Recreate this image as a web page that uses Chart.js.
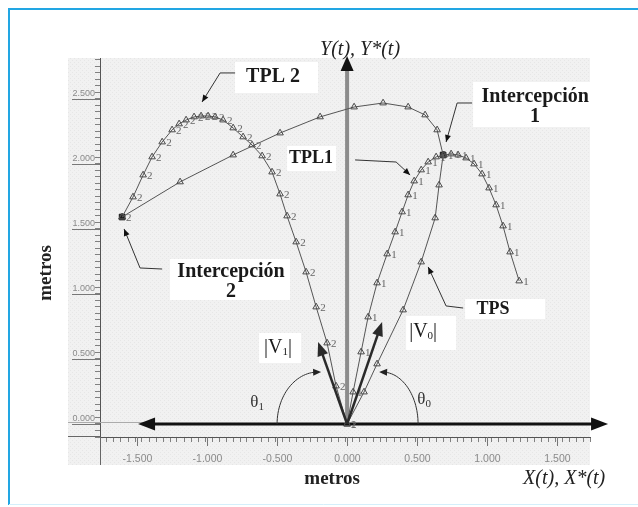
<!DOCTYPE html>
<html>
<head>
<meta charset="utf-8">
<script src="https://cdn.jsdelivr.net/npm/chart.js@4.4.1/dist/chart.umd.min.js"></script>
<style>
  html, body { margin: 0; padding: 0; background: #fff; }
  #wrap { position: relative; width: 638px; height: 507px; }
</style>
</head>
<body>
<div id="wrap"><canvas id="trayectorias" width="638" height="507"></canvas></div>
<script>
// Trayectorias en metros
const tpl1X = [0, 0.043, 0.100, 0.150, 0.214, 0.286, 0.343, 0.393, 0.436, 0.479, 0.529, 0.579, 0.636, 0.693, 0.743, 0.793, 0.850, 0.907, 0.964, 1.014, 1.064, 1.114, 1.164, 1.229];
const tpl1Y = [0, 0.246, 0.554, 0.823, 1.085, 1.308, 1.477, 1.631, 1.762, 1.869, 1.954, 2.015, 2.054, 2.069, 2.077, 2.069, 2.046, 2.000, 1.923, 1.815, 1.685, 1.523, 1.323, 1.100];

const tpl2X = [0, -0.079, -0.143, -0.221, -0.293, -0.364, -0.429, -0.479, -0.536, -0.607, -0.679, -0.743, -0.814, -0.886, -0.943, -0.993, -1.043, -1.093, -1.150, -1.200, -1.250, -1.321, -1.393, -1.457, -1.529, -1.607];
const tpl2Y = [0, 0.292, 0.623, 0.900, 1.169, 1.400, 1.600, 1.769, 1.938, 2.062, 2.146, 2.208, 2.277, 2.338, 2.362, 2.369, 2.369, 2.362, 2.338, 2.308, 2.262, 2.169, 2.054, 1.915, 1.746, 1.592];

const tps1X = [0, 0.121, 0.214, 0.400, 0.529, 0.629, 0.657, 0.686];
const tps1Y = [0, 0.246, 0.462, 0.877, 1.246, 1.585, 1.838, 2.069];

const tps2X = [-1.607, -1.193, -0.814, -0.479, -0.193, 0.050, 0.257, 0.436, 0.557, 0.643, 0.686];
const tps2Y = [1.592, 1.862, 2.069, 2.238, 2.362, 2.438, 2.469, 2.438, 2.377, 2.262, 2.069];

// puntos de intercepción 1 y 2
const intercepcionX = [0.686, -1.607];
const intercepcionY = [2.069, 1.592];

// velocidades iniciales (extremo del vector)
const v0 = [0.25, 0.785];
const v1 = [-0.207, 0.631];

const xTickValues = [-1.5, -1.0, -0.5, 0, 0.5, 1.0, 1.5];
const xTickLabels = ['-1.500', '-1.000', '-0.500', '0.000', '0.500', '1.000', '1.500'];
const yTickValues = [0, 0.5, 1.0, 1.5, 2.0, 2.5];
const yTickLabels = ['0.000', '0.500', '1.000', '1.500', '2.000', '2.500'];

const toXY = (xs, ys) => xs.map((x, i) => ({ x: x, y: ys[i] }));

function majorLabel(v, values, labels) {
    const i = values.findIndex(t => Math.abs(t - v) < 1e-6);
    return i >= 0 ? labels[i] : '';
}

const B20 = 'bold 20px "Liberation Serif"';
const B18 = 'bold 18px "Liberation Serif"';
const R20 = '20px "Liberation Serif"';
const R17 = '17px "Liberation Serif"';
const R11 = '11px "Liberation Serif"';
const I20 = 'italic 20px "Liberation Serif"';

// textos: ancla en metros, caja blanca relativa al ancla en px
const notas = [
    { x: -0.529, y: 2.669, box: [-38, -15, 83, 31], lines: [[{ t: 'TPL 2', font: B20 }]] },
    { x: -0.257, y: 2.046, box: [-24, -12, 49, 25], lines: [[{ t: 'TPL1', font: B18 }]] },
    { x: 1.343, y: 2.515, box: [-62, -15, 119, 45], lines: [[{ t: 'Intercepción', font: B20 }], [{ t: '1', font: B20 }]] },
    { x: -0.829, y: 1.169, box: [-61, -13, 120, 41], lines: [[{ t: 'Intercepción', font: B20 }], [{ t: '2', font: B20 }]] },
    { x: 1.043, y: 0.885, box: [-28, -10, 80, 20], lines: [[{ t: 'TPS', font: B18 }]] },
    { x: 0.543, y: 0.708, box: [-17, -16, 50, 34], lines: [[{ t: '|V', font: R20 }, { t: '0', font: R11, dy: 4 }, { t: '|', font: R20 }]] },
    { x: -0.493, y: 0.585, box: [-19, -15, 42, 30], lines: [[{ t: '|V', font: R20 }, { t: '1', font: R11, dy: 4 }, { t: '|', font: R20 }]] },
    { x: -0.643, y: 0.162, box: null, lines: [[{ t: 'θ', font: R17 }, { t: '1', font: R11, dy: 4 }]] },
    { x: 0.55, y: 0.185, box: null, lines: [[{ t: 'θ', font: R17 }, { t: '0', font: R11, dy: 4 }]] }
];

// flechas de los rótulos (el último punto lleva la punta)
const punteros = [
    [[-0.8, 2.7], [-0.907, 2.7], [-1.036, 2.477]],
    [[0.057, 2.031], [0.35, 2.015], [0.45, 1.915]],
    [[0.893, 2.469], [0.786, 2.469], [0.707, 2.169]],
    [[-1.321, 1.192], [-1.479, 1.2], [-1.593, 1.5]],
    [[0.829, 0.892], [0.707, 0.908], [0.579, 1.208]]
];

function arrowHead(ctx, x0, y0, x1, y1, len, half) {
    const a = Math.atan2(y1 - y0, x1 - x0);
    const c = Math.cos(a), s = Math.sin(a);
    ctx.beginPath();
    ctx.moveTo(x1, y1);
    ctx.lineTo(x1 - len * c + half * s, y1 - len * s - half * c);
    ctx.lineTo(x1 - len * c - half * s, y1 - len * s + half * c);
    ctx.closePath();
    ctx.fill();
}

function richLine(ctx, parts, cx, cy) {
    let w = 0;
    parts.forEach(p => { ctx.font = p.font; w += ctx.measureText(p.t).width; });
    let x = cx - w / 2;
    parts.forEach(p => {
        ctx.font = p.font;
        ctx.fillText(p.t, x, cy + (p.dy || 0));
        x += ctx.measureText(p.t).width;
    });
}

const decor = {
    id: 'decor',
    beforeDraw(chart) {
        const { ctx, chartArea: a } = chart;
        ctx.save();
        ctx.fillStyle = '#fff';
        ctx.fillRect(0, 0, chart.width, chart.height);

        // fondo punteado de la zona de gráfico
        const pc = document.createElement('canvas');
        pc.width = 4; pc.height = 4;
        const p = pc.getContext('2d');
        p.fillStyle = '#f1f1f1'; p.fillRect(0, 0, 4, 4);
        p.fillStyle = '#e6e6e6'; p.fillRect(0, 0, 1, 1); p.fillRect(2, 2, 1, 1);
        ctx.fillStyle = ctx.createPattern(pc, 'repeat');
        ctx.fillRect(a.left - 32, a.top, a.right - a.left + 32, a.bottom - a.top + 28);

        // marco
        ctx.strokeStyle = '#22a6e3';
        ctx.lineWidth = 2;
        ctx.beginPath();
        ctx.moveTo(chart.width, 9); ctx.lineTo(9, 9); ctx.lineTo(9, chart.height - 2);
        ctx.stroke();
        ctx.strokeStyle = '#d4effb';
        ctx.lineWidth = 1;
        ctx.beginPath();
        ctx.moveTo(9, chart.height - 2.5); ctx.lineTo(chart.width, chart.height - 2.5);
        ctx.stroke();
        ctx.restore();
    },
    beforeDatasetsDraw(chart) {
        const { ctx, chartArea: a, scales: { x, y } } = chart;
        ctx.save();
        // marcas principales y rótulos del eje X
        ctx.strokeStyle = '#777';
        ctx.lineWidth = 1;
        yTickValues.forEach(v => {
            const py = Math.round(y.getPixelForValue(v)) + 0.5;
            ctx.beginPath(); ctx.moveTo(a.left - 28, py); ctx.lineTo(a.left, py); ctx.stroke();
        });
        ctx.fillStyle = '#8a8a8a';
        ctx.font = '10.5px "Liberation Sans"';
        ctx.textAlign = 'center';
        ctx.textBaseline = 'middle';
        xTickValues.forEach((v, i) => {
            const px = Math.round(x.getPixelForValue(v)) + 0.5;
            ctx.beginPath(); ctx.moveTo(px, a.bottom); ctx.lineTo(px, a.bottom + 9); ctx.stroke();
            ctx.fillText(xTickLabels[i], px, a.bottom + 22);
        });
        // prolongaciones de los ejes
        ctx.strokeStyle = '#666';
        ctx.beginPath();
        ctx.moveTo(a.left - 32, a.bottom - 0.5); ctx.lineTo(a.left, a.bottom - 0.5);
        ctx.moveTo(a.left + 0.5, a.bottom); ctx.lineTo(a.left + 0.5, a.bottom + 28);
        ctx.stroke();
        ctx.strokeStyle = '#aaa';
        const y0 = y.getPixelForValue(0);
        ctx.beginPath(); ctx.moveTo(a.left - 32, y0 - 1.5); ctx.lineTo(x.getPixelForValue(-1.45), y0 - 1.5); ctx.stroke();

        // cajas blancas de los rótulos
        ctx.fillStyle = '#fff';
        notas.forEach(n => {
            if (!n.box) return;
            const px = x.getPixelForValue(n.x), py = y.getPixelForValue(n.y);
            ctx.fillRect(px + n.box[0], py + n.box[1], n.box[2], n.box[3]);
        });

        // eje Y(t): flecha gris
        const cx = x.getPixelForValue(0);
        const tip = y.getPixelForValue(2.83);
        ctx.strokeStyle = '#8c8c8c';
        ctx.lineWidth = 4;
        ctx.beginPath(); ctx.moveTo(cx, y0); ctx.lineTo(cx, tip + 12); ctx.stroke();
        ctx.fillStyle = '#111';
        arrowHead(ctx, cx, y0, cx, tip, 15, 6.5);

        // eje X(t): flecha doble negra
        const xl = x.getPixelForValue(-1.493), xr = x.getPixelForValue(1.864);
        ctx.strokeStyle = '#111';
        ctx.lineWidth = 3;
        ctx.beginPath(); ctx.moveTo(xl + 12, y0); ctx.lineTo(xr - 12, y0); ctx.stroke();
        arrowHead(ctx, xr, y0, xl, y0, 17, 6.5);
        arrowHead(ctx, xl, y0, xr, y0, 17, 6.5);
        ctx.restore();
    },
    afterDatasetsDraw(chart) {
        const { ctx, scales: { x, y } } = chart;
        ctx.save();

        // número de trayectoria junto a cada triángulo
        ctx.fillStyle = '#666';
        ctx.font = '11px "Liberation Serif"';
        ctx.textAlign = 'left';
        ctx.textBaseline = 'middle';
        chart.data.datasets.forEach((ds, i) => {
            if (!ds.tag) return;
            chart.getDatasetMeta(i).data.forEach(el => ctx.fillText(ds.tag, el.x + 4, el.y + 1));
        });

        const ox = x.getPixelForValue(0), oy = y.getPixelForValue(0);

        // ángulos de lanzamiento: cuarto de elipse centrado bajo cada vector
        ctx.strokeStyle = '#333';
        ctx.fillStyle = '#222';
        ctx.lineWidth = 1;
        [[v1[0], 0.293, Math.PI, Math.PI / 2], [v0[0], 0.257, 0, Math.PI / 2]].forEach(([cxv, rxv, t0, t1]) => {
            const cx = x.getPixelForValue(cxv);
            const rx = Math.abs(x.getPixelForValue(cxv + rxv) - cx);
            const ry = oy - y.getPixelForValue(0.4);
            const pts = [];
            for (let k = 0; k <= 30; k++) {
                const t = t0 + (t1 - t0) * k / 30;
                pts.push([cx + rx * Math.cos(t), oy - ry * Math.sin(t)]);
            }
            ctx.beginPath();
            pts.forEach((q, k) => k ? ctx.lineTo(q[0], q[1]) : ctx.moveTo(q[0], q[1]));
            ctx.stroke();
            const q0 = pts[pts.length - 3], q1 = pts[pts.length - 1];
            arrowHead(ctx, q0[0], q0[1], q1[0] + (t0 === 0 ? -3 : 3), q1[1], 8, 3.5);
        });

        // vectores de velocidad
        ctx.strokeStyle = '#2a2a2a';
        ctx.fillStyle = '#2a2a2a';
        ctx.lineWidth = 2.5;
        [v0, v1].forEach(v => {
            const tx = x.getPixelForValue(v[0]), ty = y.getPixelForValue(v[1]);
            const a = Math.atan2(ty - oy, tx - ox);
            ctx.beginPath();
            ctx.moveTo(ox, oy);
            ctx.lineTo(tx - 10 * Math.cos(a), ty - 10 * Math.sin(a));
            ctx.stroke();
            arrowHead(ctx, ox, oy, tx, ty, 14, 5.5);
        });

        // punteros de los rótulos
        ctx.strokeStyle = '#333';
        ctx.fillStyle = '#111';
        ctx.lineWidth = 1;
        punteros.forEach(line => {
            const pts = line.map(q => [x.getPixelForValue(q[0]), y.getPixelForValue(q[1])]);
            ctx.beginPath();
            pts.forEach((q, k) => k ? ctx.lineTo(q[0], q[1]) : ctx.moveTo(q[0], q[1]));
            ctx.stroke();
            const q0 = pts[pts.length - 2], q1 = pts[pts.length - 1];
            arrowHead(ctx, q0[0], q0[1], q1[0], q1[1], 7, 3);
        });

        // rótulos
        ctx.textAlign = 'left';
        ctx.textBaseline = 'middle';
        notas.forEach(n => {
            const px = x.getPixelForValue(n.x), py = y.getPixelForValue(n.y);
            ctx.fillStyle = n.box ? '#1a1a1a' : '#333';
            n.lines.forEach((parts, k) => richLine(ctx, parts, px, py + k * 20));
        });

        // títulos de ejes
        ctx.fillStyle = '#222';
        ctx.font = I20;
        ctx.fillText('Y(t), Y*(t)', x.getPixelForValue(-0.193), y.getPixelForValue(2.877));
        ctx.fillText('X(t), X*(t)', x.getPixelForValue(1.257), y.getPixelForValue(-0.423));
        ctx.font = 'bold 19px "Liberation Serif"';
        ctx.textAlign = 'center';
        ctx.fillText('metros', x.getPixelForValue(-0.107), y.getPixelForValue(-0.423));
        ctx.translate(x.getPixelForValue(-2.15), y.getPixelForValue(1.162));
        ctx.rotate(-Math.PI / 2);
        ctx.fillText('metros', 0, 0);
        ctx.restore();
    }
};

const tri = {
    showLine: true,
    borderColor: '#555',
    borderWidth: 1,
    pointStyle: 'triangle',
    pointRadius: 3.8,
    pointBorderWidth: 1,
    pointBorderColor: '#4a4a4a',
    pointBackgroundColor: 'rgba(255,255,255,0)'
};

new Chart(document.getElementById('trayectorias'), {
    type: 'scatter',
    data: {
        datasets: [
            Object.assign({ label: 'TPS 2', data: toXY(tps2X, tps2Y) }, tri),
            Object.assign({ label: 'TPS', data: toXY(tps1X, tps1Y) }, tri),
            Object.assign({ label: 'TPL1', tag: '1', data: toXY(tpl1X, tpl1Y) }, tri),
            Object.assign({ label: 'TPL 2', tag: '2', data: toXY(tpl2X, tpl2Y) }, tri),
            {
                label: 'Intercepción',
                data: toXY(intercepcionX, intercepcionY),
                showLine: false,
                pointStyle: 'rect',
                pointRadius: 4,
                pointBackgroundColor: '#1a1a1a',
                pointBorderColor: '#1a1a1a'
            }
        ]
    },
    options: {
        responsive: false,
        animation: false,
        events: [],
        layout: { padding: { left: 0, top: 58, right: 48, bottom: 0 } },
        plugins: { legend: { display: false }, tooltip: { enabled: false } },
        scales: {
            x: {
                type: 'linear',
                min: -1.765,
                max: 1.735,
                afterFit: s => { s.height = 70; },
                grid: { drawOnChartArea: false, drawTicks: true, tickLength: 5, color: '#808080' },
                border: { display: true, color: '#555', width: 1 },
                ticks: {
                    stepSize: 0.05, autoSkip: false, maxRotation: 0, includeBounds: false,
                    callback: () => ''
                }
            },
            y: {
                type: 'linear',
                min: -0.1,
                max: 2.815,
                afterFit: s => { s.width = 100; },
                grid: { drawOnChartArea: false, drawTicks: true, tickLength: 5, color: '#808080' },
                border: { display: true, color: '#555', width: 1 },
                ticks: {
                    stepSize: 0.05, autoSkip: false, includeBounds: false,
                    padding: 0, labelOffset: -5, color: '#8a8a8a',
                    font: { family: 'Liberation Sans', size: 9 },
                    callback: v => majorLabel(v, yTickValues, yTickLabels)
                }
            }
        }
    },
    plugins: [decor]
});
</script>
</body>
</html>
